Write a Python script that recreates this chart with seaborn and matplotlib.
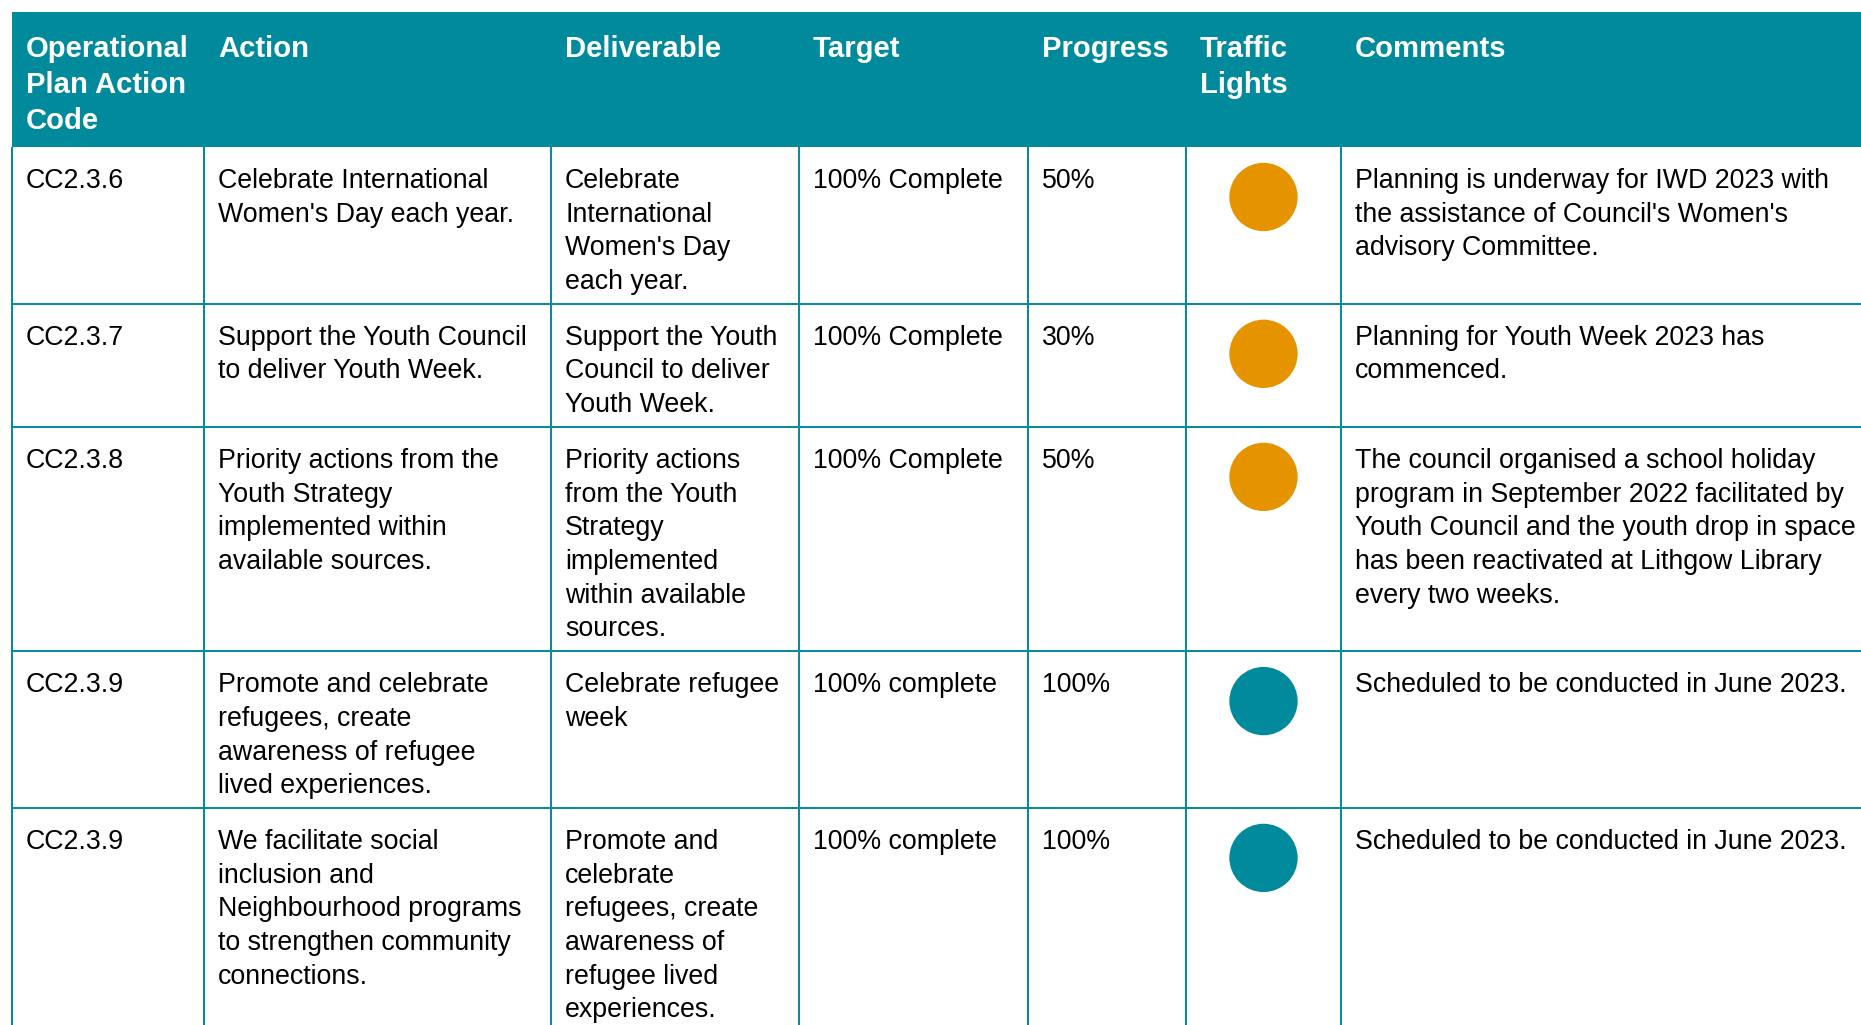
import numpy as np
import pandas as pd
import matplotlib.pyplot as plt
import seaborn as sns
from matplotlib.patches import Rectangle

# table content
headers = ["Operational\nPlan Action\nCode", "Action", "Deliverable", "Target",
           "Progress", "Traffic\nLights", "Comments"]
codes = ["CC2.3.6", "CC2.3.7", "CC2.3.8", "CC2.3.9", "CC2.3.9"]
actions = [
    "Celebrate International\nWomen's Day each year.",
    "Support the Youth Council\nto deliver Youth Week.",
    "Priority actions from the\nYouth Strategy\nimplemented within\navailable sources.",
    "Promote and celebrate\nrefugees, create\nawareness of refugee\nlived experiences.",
    "We facilitate social\ninclusion and\nNeighbourhood programs\nto strengthen community\nconnections.",
]
deliverables = [
    "Celebrate\nInternational\nWomen's Day\neach year.",
    "Support the Youth\nCouncil to deliver\nYouth Week.",
    "Priority actions\nfrom the Youth\nStrategy\nimplemented\nwithin available\nsources.",
    "Celebrate refugee\nweek",
    "Promote and\ncelebrate\nrefugees, create\nawareness of\nrefugee lived\nexperiences.",
]
targets = ["100% Complete", "100% Complete", "100% Complete", "100% complete", "100% complete"]
progress = [50, 30, 50, 100, 100]
lights = ["amber", "amber", "amber", "green", "green"]
comments = [
    "Planning is underway for IWD 2023 with\nthe assistance of Council's Women's\nadvisory Committee.",
    "Planning for Youth Week 2023 has\ncommenced.",
    "The council organised a school holiday\nprogram in September 2022 facilitated by\nYouth Council and the youth drop in space\nhas been reactivated at Lithgow Library\nevery two weeks.",
    "Scheduled to be conducted in June 2023.",
    "Scheduled to be conducted in June 2023.",
]

TEAL = "#008A9B"
AMBER = "#E69300"

W, H = 1861, 1025
col_edges = [12, 204, 551, 799, 1028, 1186, 1341, W + 5]
header_top, header_bot = 12, 147
line_h = 33.7
pad_x = 14

sns.set_theme(style="white")
plt.rcParams['font.family'] = ['Liberation Sans', 'DejaVu Sans']

fig = plt.figure(figsize=(W / 100, H / 100), dpi=100)
ax = fig.add_axes([0, 0, 1, 1])
ax.set_xlim(0, W)
ax.set_ylim(H, 0)
ax.axis('off')

# header band
ax.add_patch(Rectangle((col_edges[0], header_top), W - col_edges[0] + 5,
                       header_bot - header_top, color=TEAL, lw=0, zorder=1))
for j, h in enumerate(headers):
    for i, line in enumerate(h.split("\n")):
        ax.text(col_edges[j] + pad_x, header_top + 45 + i * 36, line,
                color="white", fontsize=21.1, fontweight="bold",
                va="baseline", ha="left", zorder=3)

# body rows
columns = [codes, actions, deliverables, targets,
           [f"{p}%" for p in progress], None, comments]
row_tops = [header_bot]
for r in range(len(codes)):
    n = max(len(c[r].split("\n")) for c in columns if c is not None)
    row_tops.append(row_tops[-1] + line_h * n + 22)

for r in range(len(codes)):
    for j, col in enumerate(columns):
        if col is None:
            continue
        for i, line in enumerate(col[r].split("\n")):
            ax.text(col_edges[j] + pad_x, row_tops[r] + 41 + i * line_h, line,
                    color="black", fontsize=19.3, va="baseline", ha="left",
                    zorder=3)

# grid lines
ax.hlines(row_tops[1:], col_edges[0], W + 5, color=TEAL, lw=1.4, zorder=2)
ax.vlines(col_edges[:-1], header_bot, H + 20, color=TEAL, lw=1.4, zorder=2)

# traffic lights
df = pd.DataFrame({
    "x": [(col_edges[5] + col_edges[6]) / 2] * len(lights),
    "y": [t + 50 for t in row_tops[:-1]],
    "status": lights,
})
sns.scatterplot(data=df, x="x", y="y", hue="status",
                palette={"amber": AMBER, "green": TEAL},
                s=2420, linewidth=0, legend=False, ax=ax, zorder=4)
ax.set_xlim(0, W)
ax.set_ylim(H, 0)
ax.axis('off')

fig.savefig("out.png", dpi=100, facecolor="white")
